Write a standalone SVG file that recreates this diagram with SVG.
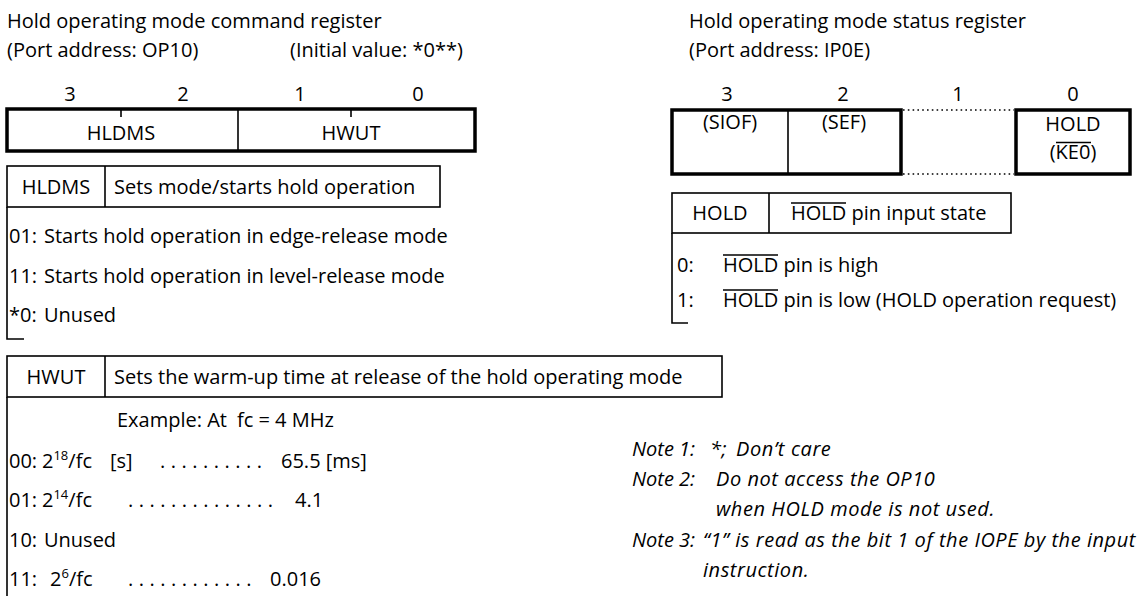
<svg xmlns="http://www.w3.org/2000/svg" width="1139" height="596" viewBox="0 0 1139 596">
<style>
text { font-family: "Open Sans", "Noto Sans", "Liberation Sans", sans-serif; font-size: 20px; fill: #000; }
.c { text-anchor: middle; }
.i { font-style: italic; letter-spacing: 0.55px; }
.n { font-style: italic; }
.thick { fill: none; stroke: #000; stroke-width: 3.5; }
.thin { fill: none; stroke: #000; stroke-width: 1.6; }
.dot { fill: none; stroke: #000; stroke-width: 1.6; stroke-dasharray: 1.6 3.2; }
.ov { stroke: #000; stroke-width: 1.4; }
.sup { font-size: 13px; }
.leader { letter-spacing: 5.5px; }
</style>
<rect width="1139" height="596" fill="#fff"/>

<g id="command-register">
  <text x="7" y="28">Hold operating mode command register</text>
  <text x="7" y="57">(Port address: OP10)</text>
  <text x="290" y="57">(Initial value: *0**)</text>
  <text class="c" x="70" y="101">3</text>
  <text class="c" x="183" y="101">2</text>
  <text class="c" x="300" y="101">1</text>
  <text class="c" x="418" y="101">0</text>
  <rect class="thick" x="7" y="109" width="468" height="42"/>
  <line class="thin" x1="238" y1="109" x2="238" y2="151"/>
  <line class="thin" x1="121" y1="109" x2="121" y2="117"/>
  <line class="thin" x1="351" y1="109" x2="351" y2="117"/>
  <text class="c" x="121" y="140">HLDMS</text>
  <text class="c" x="351" y="140">HWUT</text>
</g>

<g id="hldms-table">
  <rect class="thin" x="7" y="166" width="433" height="41"/>
  <line class="thin" x1="105" y1="166" x2="105" y2="207"/>
  <text class="c" x="56" y="194">HLDMS</text>
  <text x="114" y="194">Sets mode/starts hold operation</text>
  <path class="thin" d="M7 207 V339 H24"/>
  <text x="9" y="243">01:</text><text x="44" y="243">Starts hold operation in edge-release mode</text>
  <text x="9" y="283">11:</text><text x="44" y="283">Starts hold operation in level-release mode</text>
  <text x="9" y="322">*0:</text><text x="44" y="322">Unused</text>
</g>

<g id="hwut-table">
  <rect class="thin" x="7" y="356" width="715" height="41"/>
  <line class="thin" x1="105" y1="356" x2="105" y2="397"/>
  <text class="c" x="56" y="384">HWUT</text>
  <text x="114" y="384">Sets the warm-up time at release of the hold operating mode</text>
  <path class="thin" d="M7 397 V596"/>
  <text x="117" y="427">Example: At<tspan dx="10">fc = 4 MHz</tspan></text>
  <text x="9" y="468">00:</text>
  <text x="42" y="468">2<tspan class="sup" dy="-8">18</tspan><tspan dy="8">/fc</tspan></text>
  <text x="110" y="468">[s]</text>
  <text class="leader" x="160" y="468">..........</text>
  <text x="281" y="468">65.5 [ms]</text>
  <text x="9" y="507">01:</text>
  <text x="42" y="507">2<tspan class="sup" dy="-8">14</tspan><tspan dy="8">/fc</tspan></text>
  <text class="leader" x="128" y="507">..............</text>
  <text x="295" y="507">4.1</text>
  <text x="9" y="547">10:</text><text x="44" y="547">Unused</text>
  <text x="9" y="586">11:</text>
  <text x="50" y="586">2<tspan class="sup" dy="-8">6</tspan><tspan dy="8">/fc</tspan></text>
  <text class="leader" x="128" y="586">............</text>
  <text x="270" y="586">0.016</text>
</g>

<g id="status-register">
  <text x="689" y="28">Hold operating mode status register</text>
  <text x="689" y="57">(Port address: IP0E)</text>
  <text class="c" x="727" y="101">3</text>
  <text class="c" x="843" y="101">2</text>
  <text class="c" x="958" y="101">1</text>
  <text class="c" x="1073" y="101">0</text>
  <rect class="thick" x="672" y="110" width="229" height="64"/>
  <line class="thin" x1="788" y1="110" x2="788" y2="174"/>
  <line class="dot" x1="903" y1="110" x2="1014" y2="110"/>
  <line class="dot" x1="903" y1="174" x2="1014" y2="174"/>
  <rect class="thick" x="1016" y="110" width="114" height="64"/>
  <text class="c" x="730" y="129">(SIOF)</text>
  <text class="c" x="844" y="129">(SEF)</text>
  <text class="c" x="1073" y="131">HOLD</text>
  <text class="c" x="1073" y="159">(KE0)</text>
  <line class="ov" x1="1056" y1="142.5" x2="1091" y2="142.5"/>
</g>

<g id="hold-table">
  <rect class="thin" x="672" y="193" width="339" height="40"/>
  <line class="thin" x1="769" y1="193" x2="769" y2="233"/>
  <text class="c" x="720" y="220">HOLD</text>
  <text x="791" y="220">HOLD pin input state</text>
  <line class="ov" x1="791" y1="203" x2="846" y2="203"/>
  <path class="thin" d="M672 233 V323 H688"/>
  <text x="677" y="272">0:</text><text x="723" y="272">HOLD pin is high</text>
  <line class="ov" x1="723" y1="255" x2="778" y2="255"/>
  <text x="677" y="307">1:</text><text x="723" y="307">HOLD pin is low (HOLD operation request)</text>
  <line class="ov" x1="723" y1="290" x2="778" y2="290"/>
</g>

<g id="notes">
  <text class="n" x="632" y="456">Note 1:</text><text class="i" x="710" y="456">*;<tspan dx="9">Don’t</tspan><tspan dx="6">care</tspan></text>
  <text class="n" x="632" y="486">Note 2:</text><text class="i" x="716" y="486">Do not access the OP10</text>
  <text class="i" x="716" y="516">when HOLD mode is not used.</text>
  <text class="n" x="632" y="547">Note 3:</text><text class="i" x="703" y="547">“1” is read as the bit 1 of the IOPE by the input</text>
  <text class="i" x="703" y="577">instruction.</text>
</g>

<g id="connectors"/>
</svg>
